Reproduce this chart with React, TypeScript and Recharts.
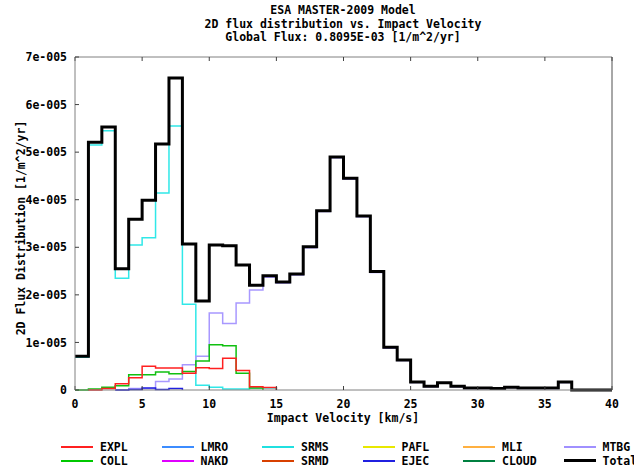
import React from 'react';
import { LineChart, Line, XAxis, YAxis } from 'recharts';

// Impact velocity bin start [km/s]
const velocity = [0, 1, 2, 3, 4, 5, 6, 7, 8, 9, 10, 11, 12, 13, 14, 15, 16, 17, 18, 19, 20, 21, 22, 23, 24, 25, 26, 27, 28, 29, 30, 31, 32, 33, 34, 35, 36, 37, 38, 39, 40];

// Flux values in units of 1e-5 [1/m^2/yr]
const total = [0.71, 5.21, 5.53, 2.55, 3.59, 3.99, 5.17, 6.56, 3.07, 1.87, 3.05, 3.03, 2.63, 2.2, 2.4, 2.27, 2.44, 3.01, 3.77, 4.9, 4.45, 3.66, 2.49, 0.9, 0.63, 0.17, 0.08, 0.15, 0.08, 0.04, 0.04, 0.03, 0.06, 0.04, 0.04, 0.04, 0.17, 0, 0, 0, 0];
const srms = [0.69, 5.15, 5.45, 2.35, 3.05, 3.2, 4.14, 5.55, 1.8, 0.1, 0.06, 0.02, 0.02, 0.04, 0.04, 0, null, null, null, null, null, null, null, null, null, null, null, null, null, null, null, null, null, null, null, null, null, null, null, null, null];
const mtbg = [null, null, null, 0, 0.03, 0.03, 0.18, 0.23, 0.53, 0.71, 1.62, 1.4, 1.83, 2.1, 2.37, 2.25, 2.42, 2.99, 3.75, 4.88, 4.43, 3.64, 2.47, 0.88, 0.62, 0.16, 0.07, 0.14, 0.07, 0.03, 0.03, 0.02, 0.05, 0.03, 0.03, 0.03, 0.16, 0, null, null, null];
const expl = [null, 0, 0.03, 0.13, 0.26, 0.5, 0.46, 0.46, 0.35, 0.47, 0.45, 0.67, 0.41, 0.07, 0.05, 0, null, null, null, null, null, null, null, null, null, null, null, null, null, null, null, null, null, null, null, null, null, null, null, null, null];
const coll = [0, 0.02, 0.06, 0.09, 0.32, 0.32, 0.38, 0.34, 0.39, 0.61, 0.95, 0.93, 0.35, 0.04, 0, null, null, null, null, null, null, null, null, null, null, null, null, null, null, null, null, null, null, null, null, null, null, null, null, null, null];
const ejec = [null, null, null, 0, 0.01, 0.04, 0.01, 0.03, 0, null, null, null, null, null, null, null, null, null, null, null, null, null, null, null, null, null, null, null, null, null, null, null, null, null, null, null, null, null, null, null, null];

const xTicks = [0, 5, 10, 15, 20, 25, 30, 35, 40];
const yTicks = [0, 1, 2, 3, 4, 5, 6, 7];
const yTickLabels = ['0', '1e-005', '2e-005', '3e-005', '4e-005', '5e-005', '6e-005', '7e-005'];

const titleLines = ['ESA MASTER-2009 Model', '2D flux distribution vs. Impact Velocity', 'Global Flux: 0.8095E-03 [1/m^2/yr]'];
const xLabel = 'Impact Velocity [km/s]';
const yLabel = '2D Flux Distribution [1/m^2/yr]';

const legendNames = ['EXPL', 'COLL', 'LMRO', 'NAKD', 'SRMS', 'SRMD', 'PAFL', 'EJEC', 'MLI', 'CLOUD', 'MTBG', 'Total'];
const legendColors = ['#ff2020', '#00c800', '#3c8cff', '#e000ff', '#20e0e0', '#d84000', '#e8e800', '#2020e0', '#ffb040', '#008040', '#a090ff', '#000000'];

const rows = velocity.map((v, i) => ({
  v,
  total: total[i],
  srms: srms[i],
  mtbg: mtbg[i],
  expl: expl[i],
  coll: coll[i],
  ejec: ejec[i],
}));

const FONT = '"DejaVu Sans Mono", monospace';
const tickStyle = { fill: '#000', fontSize: 11.5, fontFamily: FONT, fontWeight: 'bold' as const };
const axisColor = '#808080';

const txt: React.CSSProperties = {
  position: 'absolute',
  fontFamily: FONT,
  fontWeight: 'bold',
  fontSize: 11.5,
  lineHeight: '14px',
  color: '#000',
  whiteSpace: 'nowrap',
};

export default function App() {
  return (
    <div style={{ position: 'absolute', left: 0, top: 0, width: 634, height: 472, background: '#fff', overflow: 'hidden' }}>
      <LineChart width={634} height={472} data={rows} margin={{ top: 0, right: 0, bottom: 0, left: 0 }}>
        <XAxis
          xAxisId="b"
          dataKey="v"
          type="number"
          domain={[0, 40]}
          ticks={xTicks}
          interval={0}
          orientation="bottom"
          height={82}
          tickSize={-4}
          tickMargin={14}
          stroke={axisColor}
          tickLine={{ stroke: '#404040' }}
          tick={tickStyle}
        />
        <XAxis
          xAxisId="t"
          dataKey="v"
          type="number"
          domain={[0, 40]}
          ticks={xTicks}
          interval={0}
          orientation="top"
          height={57}
          tickSize={-4}
          stroke={axisColor}
          tickLine={{ stroke: '#404040' }}
          tickFormatter={() => ''}
        />
        <YAxis
          yAxisId="l"
          type="number"
          domain={[0, 7]}
          ticks={yTicks}
          interval={0}
          orientation="left"
          width={75}
          tickSize={-4}
          tickMargin={12}
          stroke={axisColor}
          tickLine={{ stroke: '#404040' }}
          tick={tickStyle}
          tickFormatter={(val: number) => yTickLabels[yTicks.indexOf(val)] ?? ''}
        />
        <YAxis
          yAxisId="r"
          type="number"
          domain={[0, 7]}
          ticks={yTicks}
          interval={0}
          orientation="right"
          width={22}
          tickSize={-4}
          stroke="#505050"
          tickLine={{ stroke: '#404040' }}
          tickFormatter={() => ''}
        />
        <Line xAxisId="b" yAxisId="l" type="stepAfter" dataKey="srms" stroke="#30e8e8" strokeWidth={1.5} dot={false} isAnimationActive={false} />
        <Line xAxisId="b" yAxisId="l" type="stepAfter" dataKey="mtbg" stroke="#a898ff" strokeWidth={1.5} dot={false} isAnimationActive={false} />
        <Line xAxisId="b" yAxisId="l" type="stepAfter" dataKey="ejec" stroke="#2020e0" strokeWidth={1.5} dot={false} isAnimationActive={false} />
        <Line xAxisId="b" yAxisId="l" type="stepAfter" dataKey="coll" stroke="#10c010" strokeWidth={1.5} dot={false} isAnimationActive={false} />
        <Line xAxisId="b" yAxisId="l" type="stepAfter" dataKey="expl" stroke="#ff2020" strokeWidth={1.5} dot={false} isAnimationActive={false} />
        <Line xAxisId="b" yAxisId="l" type="stepAfter" dataKey="total" stroke="#000" strokeWidth={3} dot={false} isAnimationActive={false} />
      </LineChart>

      {titleLines.map((t, i) => (
        <div key={t} style={{ ...txt, left: 343, top: 3 + i * 13.5, transform: 'translateX(-50%)' }}>{t}</div>
      ))}

      <div style={{ ...txt, left: 343, top: 411, transform: 'translateX(-50%)' }}>{xLabel}</div>
      <div style={{ ...txt, left: 21, top: 228, transform: 'translate(-50%, -50%) rotate(-90deg)' }}>{yLabel}</div>

      {legendNames.map((name, i) => {
        const col = Math.floor(i / 2);
        const row = i % 2;
        const x = 61 + col * 100.5;
        const y = 447 + row * 13.5;
        const isTotal = name === 'Total';
        return (
          <React.Fragment key={name}>
            <div style={{ position: 'absolute', left: x, top: y - (isTotal ? 1.5 : 1), width: 32, height: 0, borderTop: `${isTotal ? 3 : 2}px solid ${legendColors[i]}` }} />
            <div style={{ ...txt, left: x + 39, top: y - 7 }}>{name}</div>
          </React.Fragment>
        );
      })}
    </div>
  );
}
